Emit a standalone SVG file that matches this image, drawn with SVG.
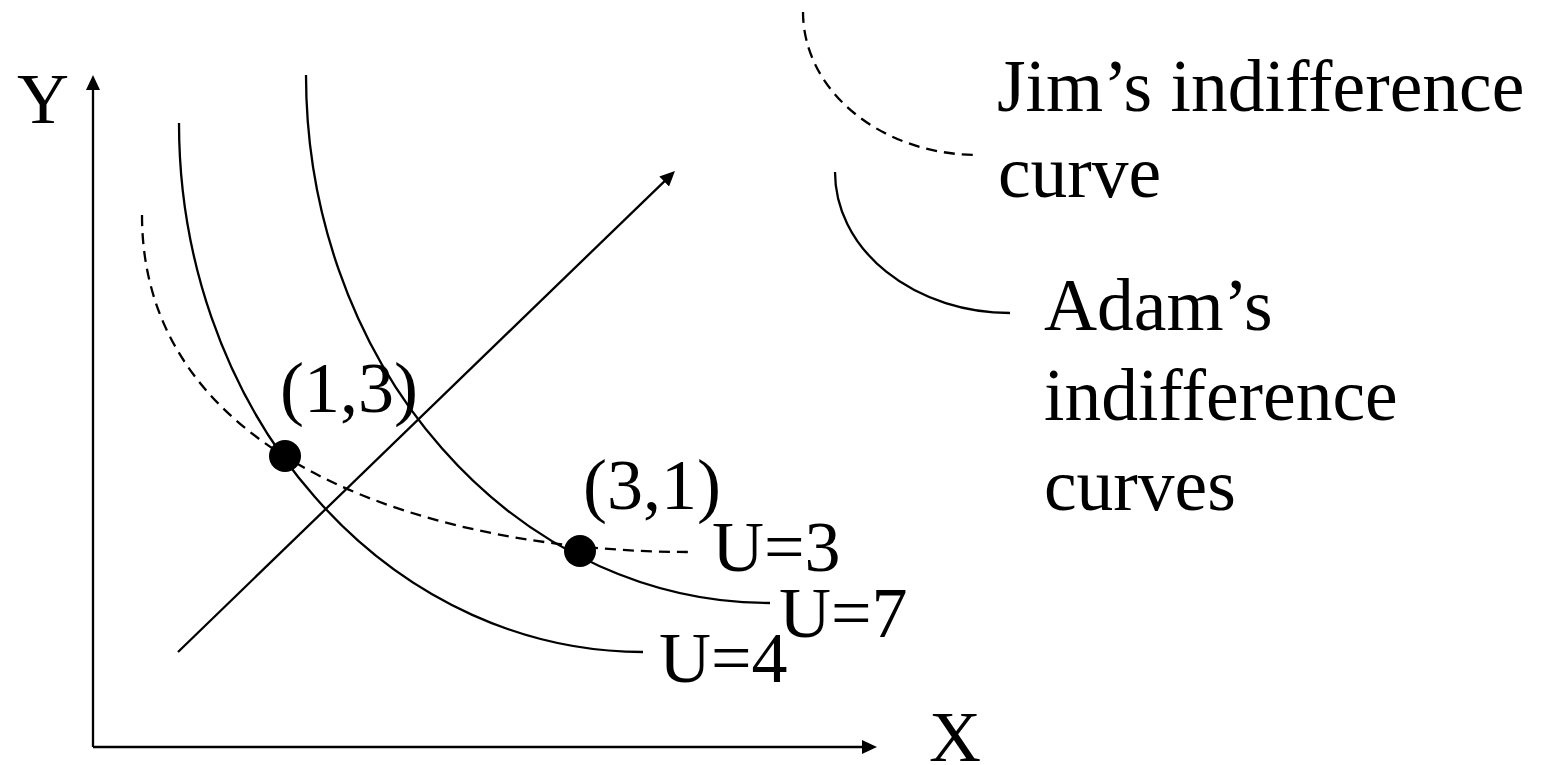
<svg xmlns="http://www.w3.org/2000/svg" width="1557" height="765" viewBox="0 0 1557 765">
  <defs>
    <marker id="arrow" markerUnits="userSpaceOnUse" viewBox="0 0 15 14" markerWidth="15" markerHeight="14" refX="6" refY="7" orient="auto">
      <path d="M0,0 L15,7 L0,14 z" fill="#000"/>
    </marker>
  </defs>
  <style>
    .line { fill: none; stroke: #000; stroke-width: 2.3; }
    .dash { fill: none; stroke: #000; stroke-width: 2.3; stroke-dasharray: 11 7; }
    .dot { fill: #000; }
    text { font-family: "Liberation Serif", "Times New Roman", serif; font-size: 72px; fill: #000; }
    .legend { font-size: 73.5px; }
  </style>
  <rect width="1557" height="765" fill="#fff"/>

  <g id="connectors">
    <line id="y-axis" class="line" x1="93" y1="747" x2="93" y2="84" marker-end="url(#arrow)"/>
    <line id="x-axis" class="line" x1="93" y1="747" x2="868" y2="747" marker-end="url(#arrow)"/>
    <line id="diagonal" class="line" x1="178" y1="652" x2="668.5" y2="177.3" marker-end="url(#arrow)"/>
  </g>

  <g id="curve-u4">
    <path class="line" d="M179,123 A464,529 0 0,0 643,652"/>
    <text x="659" y="682">U=4</text>
  </g>
  <g id="curve-u7">
    <path class="line" d="M306,75 A464,528 0 0,0 770,603"/>
    <text x="779" y="637">U=7</text>
  </g>
  <g id="curve-u3">
    <path class="dash" d="M142,215 C142,465 440,552 690,552"/>
    <text x="712" y="571">U=3</text>
  </g>

  <g id="point-13">
    <circle class="dot" cx="285" cy="456" r="16"/>
    <text x="280" y="412">(1,3)</text>
  </g>
  <g id="point-31">
    <circle class="dot" cx="580" cy="551" r="16"/>
    <text x="583" y="509">(3,1)</text>
  </g>

  <g id="label-y">
    <text x="17" y="123">Y</text>
  </g>
  <g id="label-x">
    <text x="929" y="761">X</text>
  </g>

  <g id="legend-jim">
    <path class="dash" d="M803,12 A175,143 0 0,0 978,155"/>
    <text class="legend" x="997" y="111">Jim’s indifference</text>
    <text class="legend" x="998" y="197">curve</text>
  </g>
  <g id="legend-adam">
    <path class="line" d="M835,172 A175,141 0 0,0 1010,313"/>
    <text class="legend" x="1044" y="330">Adam’s</text>
    <text class="legend" x="1044" y="420">indifference</text>
    <text class="legend" x="1044" y="510">curves</text>
  </g>
</svg>
